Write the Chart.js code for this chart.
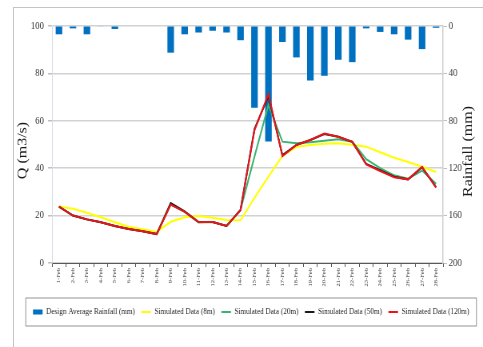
<!DOCTYPE html>
<html>
<head>
<meta charset="utf-8">
<script src="https://cdn.jsdelivr.net/npm/chart.js@4.4.1/dist/chart.umd.min.js"></script>
<style>
  html, body { margin: 0; padding: 0; background: #ffffff; overflow: hidden; }
  #wrap { position: relative; width: 483px; height: 347px; overflow: hidden; }
  #frame { position: absolute; left: 13px; top: 7px; width: 600px; height: 400px;
           border-top: 1px solid #c4c4c4; border-left: 1px solid #c4c4c4; }
  #c { position: absolute; left: 0; top: 0; }
</style>
</head>
<body>
<div id="wrap">
  <div id="frame"></div>
  <!-- drawn on a wider canvas, then condensed horizontally to 483px -->
  <canvas id="c" width="604" height="347" style="width:483px;height:347px;"></canvas>
</div>
<script>
const days = ['1-Feb','2-Feb','3-Feb','4-Feb','5-Feb','6-Feb','7-Feb','8-Feb','9-Feb','10-Feb',
              '11-Feb','12-Feb','13-Feb','14-Feb','15-Feb','16-Feb','17-Feb','18-Feb','19-Feb','20-Feb',
              '21-Feb','22-Feb','23-Feb','24-Feb','25-Feb','26-Feb','27-Feb','28-Feb'];

// design average rainfall, mm (right axis, reversed)
const rainfall = [7, 2, 7, 0.5, 2.5, 0, 0, 0, 22.5, 7, 5.5, 4, 5.5, 12,
                  69, 97.5, 13.5, 26.5, 46, 42, 28.5, 30.5, 2, 5, 7, 11.5, 19.5, 1.5];

// simulated discharge Q, m3/s (left axis)
const sim8m = [23.8, 22.9, 21.2, 19.3, 17.2, 15.3, 14.2, 13.1, 17.4, 19.3, 19.8, 19.1, 18.1, 18.0,
               27.5, 36.4, 45.2, 49.0, 49.8, 50.3, 50.5, 49.9, 49.1, 46.7, 44.4, 42.6, 40.6, 38.4];
const sim20m = [23.8, 20.0, 18.4, 17.2, 15.6, 14.3, 13.4, 12.2, 24.6, 21.6, 17.1, 17.3, 15.6, 22.4,
                44.9, 66.7, 51.2, 50.5, 50.9, 51.6, 52.2, 51.2, 43.8, 40.0, 37.0, 35.6, 39.0, 33.4];
const sim50m = [23.8, 20.0, 18.4, 17.2, 15.6, 14.3, 13.4, 12.2, 25.3, 21.8, 17.3, 17.3, 15.6, 22.4,
                56.5, 70.5, 45.5, 49.8, 51.9, 54.4, 53.3, 51.1, 41.8, 39.2, 36.4, 35.3, 40.4, 32.0];
const sim120m = [23.8, 20.0, 18.4, 17.2, 15.6, 14.3, 13.4, 12.2, 24.7, 21.6, 17.3, 17.3, 15.6, 22.4,
                 56.0, 71.3, 45.1, 49.8, 51.9, 54.6, 53.3, 51.1, 41.6, 38.8, 36.2, 35.3, 40.6, 31.8];

const qTicks = [0, 20, 40, 60, 80, 100];
const rainTicks = [0, 40, 80, 120, 160, 200];
const qTitle = 'Q (m3/s)';
const rainTitle = 'Rainfall (mm)';

const SERIF = '"Liberation Serif", "Times New Roman", serif';
Chart.defaults.font.family = SERIF;
Chart.defaults.color = '#333333';

function lineSet(label, data, color, order) {
  return {
    type: 'line', label, data, yAxisID: 'y', order,
    borderColor: color, backgroundColor: color, borderWidth: 2,
    pointRadius: 0, pointHoverRadius: 0, pointBorderWidth: 2, pointStyle: 'line',
    tension: 0, fill: false
  };
}

function verticalText(ctx, text, x, y) {
  ctx.save();
  ctx.translate(x, y);
  ctx.rotate(-Math.PI / 2);
  ctx.font = '16px ' + SERIF;
  ctx.fillStyle = '#1a1a1a';
  ctx.textAlign = 'center';
  ctx.textBaseline = 'middle';
  ctx.fillText(text, 0, 0);
  ctx.restore();
}

// legend frame and both axis titles (each reads bottom-to-top)
const extras = {
  id: 'extras',
  afterDraw(chart) {
    const ctx = chart.ctx;
    const boxes = chart.legend.legendHitBoxes;
    if (boxes && boxes.length) {
      let l = Infinity, r = -Infinity, cy = 0;
      boxes.forEach(b => { l = Math.min(l, b.left); r = Math.max(r, b.left + b.width); cy = b.top + b.height / 2; });
      ctx.save();
      ctx.strokeStyle = '#a6a6a6';
      ctx.lineWidth = 1.2;
      ctx.strokeRect(l - 9, cy - 14, (r - l) + 18, 28);
      ctx.restore();
    }
    const mid = (chart.chartArea.top + chart.chartArea.bottom) / 2;
    verticalText(ctx, qTitle, 29, mid + 6);
    verticalText(ctx, rainTitle, 586, mid + 7);
  }
};

new Chart(document.getElementById('c'), {
  data: {
    labels: days,
    datasets: [
      { type: 'bar', label: 'Design Average Rainfall (mm)', data: rainfall, yAxisID: 'y1', order: 5,
        backgroundColor: '#0070C0', borderWidth: 0, pointStyle: 'rect',
        barPercentage: 0.47, categoryPercentage: 1.0 },
      lineSet('Simulated Data (8m)', sim8m, '#FFFF00', 4),
      lineSet('Simulated Data (20m)', sim20m, '#3CB371', 3),
      lineSet('Simulated Data (50m)', sim50m, '#1a1a1a', 2),
      lineSet('Simulated Data (120m)', sim120m, '#E8161B', 1)
    ]
  },
  options: {
    responsive: false,
    animation: false,
    events: [],
    layout: { padding: { left: 24, right: 0, top: 26, bottom: 20.5 } },
    plugins: {
      tooltip: { enabled: false },
      legend: {
        position: 'bottom',
        labels: {
          usePointStyle: true, pointStyleWidth: 12, boxHeight: 5, padding: 8,
          font: { family: SERIF, size: 9 }, color: '#262626',
          sort: (a, b) => a.datasetIndex - b.datasetIndex
        }
      }
    },
    scales: {
      x: {
        type: 'category',
        afterFit: s => { s.height = 36.5; },
        grid: { offset: true, drawOnChartArea: false, drawTicks: true, tickLength: 4, color: '#595959' },
        border: { color: '#595959', width: 1 },
        ticks: { autoSkip: false, minRotation: 90, maxRotation: 90, padding: 1,
                 font: { size: 6.5 }, color: '#333333' }
      },
      y: {
        position: 'left', min: 0, max: 100,
        afterFit: s => { s.width = 41; },
        afterBuildTicks: s => { s.ticks = qTicks.map(v => ({ value: v })); },
        grid: { color: '#d2d2d2', lineWidth: 1.5, tickColor: '#bfbfbf', tickLength: 5 },
        border: { color: '#d6dde8', width: 1 },
        ticks: { padding: 5, font: { size: 11 }, color: '#333333' }
      },
      y1: {
        position: 'right', min: 0, max: 200, reverse: true,
        afterFit: s => { s.width = 50; },
        afterBuildTicks: s => { s.ticks = rainTicks.map(v => ({ value: v })); },
        grid: { drawOnChartArea: false, drawTicks: true, tickLength: 5, color: '#bfbfbf' },
        border: { color: '#cfcfcf', width: 1.5 },
        ticks: { padding: 2, font: { size: 11 }, color: '#333333' }
      }
    }
  },
  plugins: [extras]
});
</script>
</body>
</html>
